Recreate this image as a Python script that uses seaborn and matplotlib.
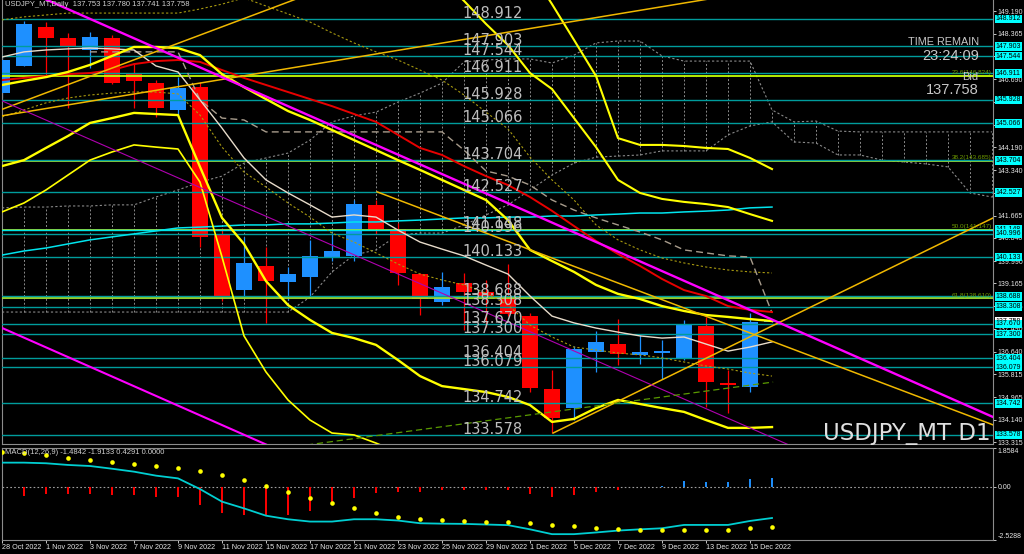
import numpy as np
import pandas as pd
import matplotlib
matplotlib.use("Agg")
import matplotlib.pyplot as plt
import seaborn as sns

# ---------------- data ----------------
dates = ["28 Oct 2022", "31 Oct 2022", "1 Nov 2022", "2 Nov 2022", "3 Nov 2022", "4 Nov 2022",
         "7 Nov 2022", "8 Nov 2022", "9 Nov 2022", "10 Nov 2022", "11 Nov 2022", "14 Nov 2022",
         "15 Nov 2022", "16 Nov 2022", "17 Nov 2022", "18 Nov 2022", "21 Nov 2022", "22 Nov 2022",
         "23 Nov 2022", "24 Nov 2022", "25 Nov 2022", "28 Nov 2022", "29 Nov 2022", "30 Nov 2022",
         "1 Dec 2022", "2 Dec 2022", "5 Dec 2022", "6 Dec 2022", "7 Dec 2022", "8 Dec 2022",
         "9 Dec 2022", "12 Dec 2022", "13 Dec 2022", "14 Dec 2022", "15 Dec 2022", "16 Dec 2022"]

opens = [146.18, 147.18, 148.62, 148.21, 147.77, 148.21, 146.89, 146.55, 145.56, 146.41, 140.99, 138.91,
         139.81, 139.22, 139.40, 140.14, 140.18, 142.06, 141.17, 139.51, 138.48, 139.18, 138.85, 138.63,
         137.97, 135.28, 134.57, 136.64, 136.93, 136.53, 136.60, 136.42, 137.60, 135.50, 135.35, 137.753]
highs = [147.55, 148.84, 148.80, 148.40, 148.43, 148.32, 147.29, 146.66, 146.77, 146.59, 141.20, 140.88,
         140.51, 139.77, 140.77, 141.02, 142.24, 142.24, 141.40, 139.55, 139.59, 139.55, 139.29, 139.88,
         138.08, 135.97, 136.85, 137.41, 137.86, 137.26, 137.08, 137.82, 137.93, 135.97, 138.08, 137.780]
lows = [146.00, 147.18, 146.85, 145.63, 147.11, 146.50, 145.63, 145.30, 145.37, 140.51, 138.50, 138.66,
        137.71, 138.55, 138.66, 140.00, 140.00, 141.00, 139.11, 138.00, 138.37, 137.45, 137.56, 137.95,
        135.16, 133.65, 134.13, 135.90, 136.16, 136.20, 135.64, 136.35, 134.61, 134.39, 135.16, 137.741]
closes = [147.40, 148.73, 148.21, 147.88, 148.25, 146.55, 146.63, 145.63, 146.37, 140.88, 138.66, 139.92,
          139.26, 139.51, 140.18, 140.36, 142.09, 141.17, 139.55, 138.59, 139.03, 138.85, 138.66, 138.04,
          135.31, 134.21, 136.75, 137.01, 136.56, 136.64, 136.68, 137.63, 135.53, 135.42, 137.74, 137.758]

ma_white = [147.51, 147.70, 147.77, 147.81, 147.84, 147.81, 147.77, 147.18, 146.96, 145.93, 144.89, 143.79,
            142.98, 142.50, 142.06, 141.61, 141.69, 141.61, 141.13, 140.69, 140.43, 140.18, 139.84, 139.51,
            138.70, 137.96, 137.71, 137.52, 137.37, 137.23, 137.15, 137.19, 136.93, 136.67, 136.82, 137.01]
ma_red = [146.66, 146.74, 146.81, 146.88, 146.92, 147.03, 147.25, 147.36, 147.40, 147.33, 147.03, 146.74,
          146.48, 146.22, 145.96, 145.70, 145.41, 145.12, 144.64, 144.16, 143.90, 143.49, 143.12, 142.79,
          142.35, 141.84, 141.28, 140.73, 140.25, 139.81, 139.33, 138.92, 138.70, 138.33, 138.19, 138.11]
ma_cyan = [140.21, 140.36, 140.47, 140.62, 140.77, 140.88, 140.99, 141.10, 141.21, 141.24, 141.28, 141.32,
           141.32, 141.36, 141.36, 141.39, 141.43, 141.43, 141.47, 141.50, 141.54, 141.58, 141.58, 141.61,
           141.61, 141.65, 141.65, 141.69, 141.72, 141.76, 141.76, 141.80, 141.83, 141.87, 141.95, 141.98]
band_a = [146.48, 146.63, 146.77, 146.96, 147.22, 147.55, 147.88, 147.88, 147.84, 147.58, 146.88, 146.40,
          145.96, 145.52, 145.19, 144.82, 144.45, 144.08, 143.71, 143.35, 142.98, 142.61, 142.24, 141.50,
          140.40, 139.99, 139.59, 139.11, 138.78, 138.59, 138.33, 138.15, 138.00, 137.93, 137.85, 137.78]
band_b = [143.49, 143.71, 144.16, 144.60, 145.08, 145.26, 145.45, 145.41, 145.37, 143.46, 141.58, 140.62,
          139.25, 138.37, 137.82, 137.34, 137.15, 136.90, 136.34, 135.75, 135.38, 135.27, 135.16, 134.98,
          134.68, 134.06, 134.17, 134.57, 134.87, 134.72, 134.57, 134.43, 134.13, 133.84, 133.84, 133.87]
band_c = [141.80, 142.13, 142.61, 143.16, 143.71, 144.01, 144.27, 144.19, 144.12, 142.90, 140.14, 137.23,
          135.90, 134.87, 134.13, 133.65, 133.58, 133.28, 132.95] + [np.nan] * 17
band_d = [np.nan] * 24 + [150.72, 149.46, 148.14, 146.81, 144.52, 144.27, 144.27, 144.23, 144.16, 144.12,
                          143.79, 143.38]
band_e = [np.nan] * 20 + [150.35, 149.58, 148.73, 147.95, 146.92, 146.33, 145.26, 144.19, 142.98, 142.50,
                          142.28, 142.17, 142.09, 141.98, 141.72, 141.47]
kijun = [np.nan] * 4 + [147.70] * 5 + [145.93, 145.26, 145.19] + [144.75] * 9 + \
        [144.08, 143.31, 143.12, 142.79, 142.24, 141.87, 141.58, 141.32, 141.06, 140.77, 140.40, 140.29,
         140.18, 140.14, 138.08]
dot_upper = [148.88, 148.99, 149.06, 149.13, 149.13, 149.13, 149.13, 149.13, 149.13, 149.28, 149.46, 149.69,
             149.39, 149.10, 148.80, 148.40, 148.03, 147.70, 147.40, 147.03, 146.66, 146.11, 145.48, 144.86,
             143.82, 142.98, 142.24, 141.32, 140.77, 140.40, 140.10, 139.92, 139.77, 139.66, 139.59, 139.55]
dot_lower = [145.30, 145.56, 145.82, 146.00, 146.11, 146.18, 146.22, 146.22, 146.15, 145.37, 144.19, 143.27,
             142.72, 142.13, 141.61, 141.02, 140.69, 140.29, 139.88, 139.51, 139.29, 139.11, 138.81, 138.37,
             137.63, 137.19, 136.82, 136.71, 136.60, 136.53, 136.42, 136.27, 136.12, 136.01, 135.86, 135.75]

# Ichimoku-like cloud, 46 positions (36 bars + 10 ahead)
span_a = [141.95, 141.98, 141.98, 142.02, 142.02, 142.06, 142.06, 142.35, 142.61, 142.90, 143.12, 143.60,
          143.79, 143.97, 144.45, 145.12, 145.34, 145.48, 145.85, 146.18, 146.55, 147.33, 147.40, 147.44,
          147.44, 147.29, 147.58, 148.03, 148.10, 148.10, 147.55, 147.36, 147.36, 147.36, 147.36, 145.56,
          145.12, 145.15, 144.78, 144.75, 144.75, 144.75, 144.75, 144.75, 144.75, 144.75]
span_b = [138.11] * 14 + [138.66, 139.59, 140.21, 140.40, 140.95, 141.02, 141.02, 141.32, 141.69, 142.06,
                          142.61, 143.16, 143.60, 143.82, 143.86, 143.90, 144.05, 144.05, 144.05, 144.64,
                          144.97, 145.12, 144.38, 144.34, 143.90, 143.90, 143.71, 143.64, 143.57, 143.46,
                          142.50, 142.35]

# trend lines (bar index, price)
gold1_x, gold1_y = [-0.1, 14.0], [145.55, 149.84]
gold2_x, gold2_y = [-0.1, 32.5], [145.33, 149.70]
gold3_x, gold3_y = [25.05, 45.05], [133.65, 141.58]
gold4_x, gold4_y = [17.05, 45.05], [142.54, 133.95]
mag1_x, mag1_y = [1.5, 45.05], [149.81, 134.24]
mag2_x, mag2_y = [-0.1, 36.0], [145.93, 133.13]
mag3_x, mag3_y = [-0.1, 12.5], [137.56, 133.05]
green_x, green_y = [13.86, 35.05], [133.21, 135.53]

levels = [148.912, 147.903, 147.544, 146.911, 145.928, 145.066, 143.704, 142.527, 141.148, 140.996,
          140.133, 138.688, 138.308, 137.670, 137.300, 136.404, 136.079, 134.742, 133.578]
fib_levels = [146.824, 143.685, 141.147, 138.610]
fib_labels = ["23.6(146.824)", "38.2(143.685)", "50.0(141.147)", "61.8(138.610)"]
price_ticks = [149.190, 148.365, 147.540, 146.690, 145.865, 145.015, 144.190, 143.340, 142.515, 141.665,
               140.840, 139.990, 139.165, 138.315, 137.490, 136.640, 135.815, 134.965, 134.140, 133.315]
bid_price = 137.758

macd_line = [1.16, 1.16, 1.13, 1.05, 1.00, 0.87, 0.73, 0.54, 0.41, -0.10, -0.70, -1.02, -1.37, -1.54,
             -1.65, -1.65, -1.54, -1.54, -1.60, -1.73, -1.75, -1.76, -1.79, -1.82, -2.02, -2.25, -2.25,
             -2.17, -2.08, -2.02, -1.97, -1.81, -1.81, -1.81, -1.62, -1.48]
macd_signal = [1.65, 1.60, 1.51, 1.40, 1.30, 1.21, 1.08, 0.98, 0.89, 0.75, 0.56, 0.33, 0.03, -0.22, -0.52,
               -0.78, -1.02, -1.24, -1.41, -1.51, -1.57, -1.63, -1.67, -1.67, -1.70, -1.81, -1.87, -1.94,
               -2.00, -2.03, -2.03, -2.06, -2.06, -2.03, -1.97, -1.91]
macd_hist = [-0.49, -0.43, -0.35, -0.35, -0.32, -0.40, -0.40, -0.48, -0.48, -0.86, -1.22, -1.35, -1.40,
             -1.35, -1.13, -0.86, -0.54, -0.27, -0.22, -0.22, -0.14, -0.14, -0.13, -0.14, -0.33, -0.46,
             -0.38, -0.24, -0.14, 0.01, 0.06, 0.29, 0.25, 0.22, 0.37, 0.43]

# ---------------- style ----------------
plt.rcParams['font.family'] = ['Liberation Sans', 'DejaVu Sans']
BG = "black"
GRID = "#8C8C8C"

fig = plt.figure(figsize=(10.24, 5.54), dpi=100, facecolor=BG)
W, H = 1024.0, 554.0
ax = fig.add_axes([2 / W, (H - 444) / H, 991 / W, 444 / H], facecolor=BG)
ax2 = fig.add_axes([2 / W, (H - 540) / H, 991 / W, 92 / H], facecolor=BG)

idx = np.arange(len(dates))
idx_c = np.arange(len(span_a))


def sline(axis, xs, ys, color, lw, ls="-", z=4):
    df = pd.DataFrame({"x": np.asarray(xs, float), "y": np.asarray(ys, float)}).dropna()
    sns.lineplot(data=df, x="x", y="y", ax=axis, color=color, linewidth=lw, linestyle=ls,
                 legend=False, sort=False, estimator=None, errorbar=None, zorder=z)


# cloud
sa = np.array(span_a); sb = np.array(span_b)
ax.vlines(idx_c, np.minimum(sa, sb), np.maximum(sa, sb), colors="#8A8A8A", linewidth=0.7,
          linestyles=(0, (2, 2)), zorder=1)
sline(ax, idx_c, span_a, "#8A8A8A", 0.8, (0, (2, 2)), 1)
sline(ax, idx_c, span_b, "#8A8A8A", 0.8, (0, (2, 2)), 1)

# candles
o = np.array(opens); c = np.array(closes)
cols = np.where(c >= o, "#1E90FF", "#FF0000")
ax.vlines(idx, lows, highs, colors=cols, linewidth=0.9, zorder=2.5)
ax.bar(idx, np.maximum(np.abs(c - o), 0.03), bottom=np.minimum(o, c), width=0.77, color=cols,
       linewidth=0, zorder=2.6)

# horizontal levels
for lv in fib_levels:
    ax.axhline(lv, color="#A6E22E" if lv != fib_levels[0] else "#C6FF00", linewidth=1.3, zorder=2.8)
for lv in levels:
    colr = "#00E5E5" if abs(lv - 141.148) < 1e-6 else "#009C9C"
    ax.axhline(lv, color=colr, linewidth=1.0, zorder=2.9)

# indicators
sline(ax, idx, dot_upper, "#A89A10", 0.8, (0, (2, 2)), 3)
sline(ax, idx, dot_lower, "#A89A10", 0.8, (0, (2, 2)), 3)
sline(ax, idx, kijun, "#A89C8C", 1.0, (0, (5, 3)), 3)
sline(ax, idx, ma_cyan, "#00E5EE", 1.1)
sline(ax, idx, ma_white, "#E8DCCB", 1.0)
sline(ax, idx, ma_red, "#E80000", 1.4)
sline(ax, idx, band_a, "#FFFF00", 1.7)
sline(ax, idx, band_b, "#FFFF00", 1.7)
sline(ax, idx, band_c, "#FFFF00", 1.2)
sline(ax, idx, band_d, "#FFFF00", 1.5)
sline(ax, idx, band_e, "#FFFF00", 1.5)

# trend lines
for xs, ys, colr, lw, ls in [(gold1_x, gold1_y, "#F0B800", 1.1, "-"),
                             (gold2_x, gold2_y, "#F0B800", 1.1, "-"),
                             (gold3_x, gold3_y, "#F0B800", 1.1, "-"),
                             (gold4_x, gold4_y, "#F0B800", 1.1, "-"),
                             (mag2_x, mag2_y, "#B000B0", 0.8, "-"),
                             (mag1_x, mag1_y, "#FF00FF", 1.7, "-"),
                             (mag3_x, mag3_y, "#FF00FF", 1.5, "-"),
                             (green_x, green_y, "#5A9A00", 0.9, (0, (5, 3)))]:
    sline(ax, xs, ys, colr, lw, ls, 4.5)

# level labels in chart
for lv in levels:
    ax.annotate(f"{lv:.3f}", xy=(20.95, lv), xytext=(0, 1.0), textcoords="offset points",
                ha="left", va="baseline", fontsize=10.5, family="DejaVu Sans", color="#BEBEBE", zorder=6)
for lv, lab in zip(fib_levels, fib_labels):
    ax.annotate(lab, xy=(0.9985, lv), xycoords=("axes fraction", "data"), xytext=(0, 1),
                textcoords="offset points", ha="right", va="baseline", fontsize=4.6,
                color="#6F9B00", zorder=6)

ax.set_xlim(0, 45.045)
ax.set_ylim(133.246, 149.612)
ax.set_xlabel(""); ax.set_ylabel("")
ax.tick_params(axis="x", bottom=False, labelbottom=False)
ax.yaxis.tick_right()
ax.set_yticks(price_ticks)
ax.set_yticklabels([f"{t:.3f}" for t in price_ticks])
ax.tick_params(axis="y", colors="#E6E6E6", labelsize=5, length=2, width=0.6, pad=1.5)
for s in ["left", "right", "bottom"]:
    ax.spines[s].set_color(GRID); ax.spines[s].set_linewidth(0.8)
ax.spines["top"].set_visible(False)

# price boxes on right axis
ax.annotate(f"{bid_price:.3f}", xy=(1, bid_price), xycoords=("axes fraction", "data"), xytext=(2.1, 0),
            textcoords="offset points", ha="left", va="center", fontsize=5, color="black",
            bbox=dict(boxstyle="square,pad=0.12", fc="white", ec="none"), annotation_clip=False, zorder=7)
for lv in levels:
    ax.annotate(f"{lv:.3f}", xy=(1, lv), xycoords=("axes fraction", "data"), xytext=(2.1, 0),
                textcoords="offset points", ha="left", va="center", fontsize=5, color="black",
                bbox=dict(boxstyle="square,pad=0.12", fc="#00FFFF", ec="none"),
                annotation_clip=False, zorder=8)

# ---------------- MACD panel ----------------
hist = np.array(macd_hist)
ax2.axhline(0, color="#A0A0A0", linewidth=0.8, linestyle=(0, (1.5, 2)), zorder=1)
ax2.vlines(idx, 0, hist, colors=np.where(hist >= 0, "#1E90FF", "#FF0000"), linewidth=1.4, zorder=2)
sline(ax2, idx, macd_line, "#00CED1", 1.3, "-", 3)
sns.scatterplot(x=idx, y=macd_signal, ax=ax2, color="#FFFF00", s=11, linewidth=0, zorder=4, legend=False)
ax2.set_xlim(0, 45.045)
ax2.set_ylim(-2.5288, 1.8584)
ax2.set_xlabel(""); ax2.set_ylabel("")
ax2.yaxis.tick_right()
ax2.set_yticks([1.8584, 0.0, -2.5288])
ax2.set_yticklabels(["1.8584", "0.00", "-2.5288"])
ax2.tick_params(axis="y", colors="#E6E6E6", labelsize=5, length=2, width=0.6, pad=1.5)
ylabs = ax2.get_yticklabels()
ylabs[0].set_va("top"); ylabs[2].set_va("bottom")
ax2.set_xticks(idx[::2])
ax2.set_xticklabels(dates[::2])
ax2.tick_params(axis="x", colors="#E6E6E6", labelsize=5.2, length=2, width=0.6, pad=1)
for lab in ax2.get_xticklabels():
    lab.set_ha("left")
for s in ax2.spines.values():
    s.set_color(GRID); s.set_linewidth(0.8)

# ---------------- texts ----------------
fig.text(5 / W, 1 - 1.5 / H, "USDJPY_MT,Daily  137.753 137.780 137.741 137.758", ha="left", va="top",
         fontsize=5.5, color="#D0D0D0")
fig.text(5 / W, 1 - 449 / H, "MACD(12,26,9) -1.4842 -1.9133 0.4291 0.0000", ha="left", va="top",
         fontsize=5.5, color="#D0D0D0")
fig.text(979 / W, 1 - 45 / H, "TIME REMAIN", ha="right", va="baseline", fontsize=7.8, color="#C8C8C8")
fig.text(979 / W, 1 - 60 / H, "23:24:09", ha="right", va="baseline", fontsize=10.5, color="#C8C8C8")
fig.text(978 / W, 1 - 80 / H, "Bid", ha="right", va="baseline", fontsize=8, color="#C8C8C8")
fig.text(979 / W, 1 - 94 / H, "137.758", ha="right", va="baseline", fontsize=10.5, color="#C8C8C8")
fig.text(991 / W, 1 - 440 / H, "USDJPY_MT D1", ha="right", va="baseline", fontsize=16.5,
         family="DejaVu Sans", color="#E0E0E0")

fig.savefig("out.png", dpi=100, facecolor=BG)
